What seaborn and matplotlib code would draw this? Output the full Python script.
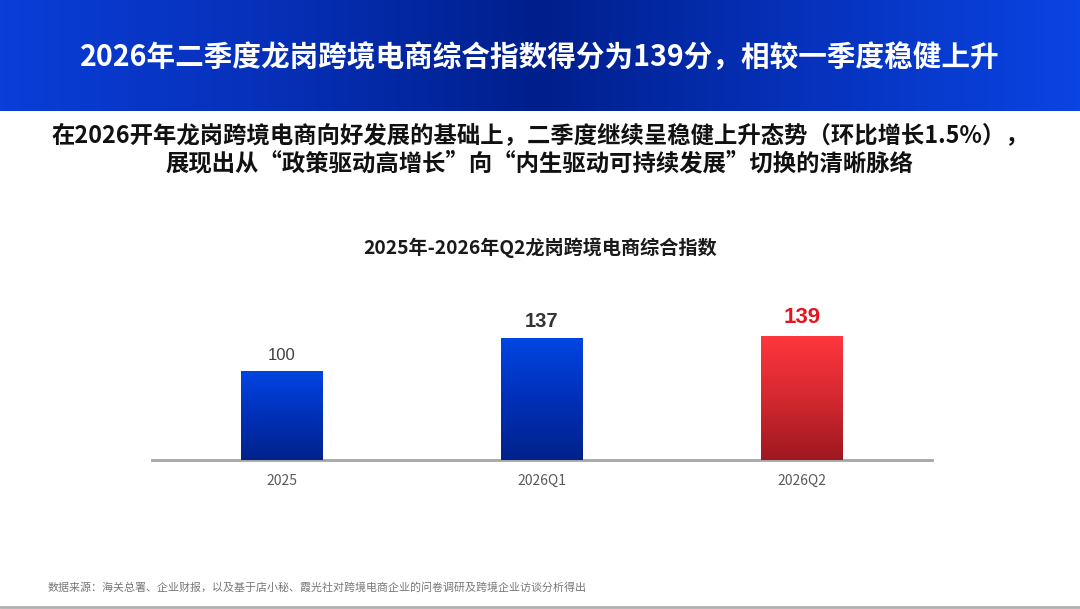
import numpy as np
import pandas as pd
import matplotlib.pyplot as plt
import seaborn as sns
from matplotlib.colors import LinearSegmentedColormap
from matplotlib.lines import Line2D

# data
categories = ['2025', '2026Q1', '2026Q2']
values = [100, 137, 139]

title = '2026年二季度龙岗跨境电商综合指数得分为139分，相较一季度稳健上升'
sub1 = '在2026开年龙岗跨境电商向好发展的基础上，二季度继续呈稳健上升态势（环比增长1.5%），'
sub2 = '展现出从“政策驱动高增长”向“内生驱动可持续发展”切换的清晰脉络'
chart_title = '2025年-2026年Q2龙岗跨境电商综合指数'
source = '数据来源：海关总署、企业财报，以及基于店小秘、霞光社对跨境电商企业的问卷调研及跨境企业访谈分析得出'

sns.set_style('white')
plt.rcParams['font.family'] = ['Noto Sans CJK SC', 'DejaVu Sans']

df = pd.DataFrame({'cat': categories, 'val': values})

W, H = 1080, 609
fig = plt.figure(figsize=(W / 100, H / 100), dpi=100)
fig.patch.set_facecolor('white')

# header band
hdr = fig.add_axes([0, 1 - 111 / H, 1, 111 / H])
hdr_cmap = LinearSegmentedColormap.from_list('hdr', ['#0a3ed8', '#0630b8', '#001f8c', '#0632bc', '#0a44e2'])
hdr.imshow(np.linspace(0, 1, 256)[None, :], aspect='auto', cmap=hdr_cmap, extent=[0, 1, 0, 1])
hdr.set_axis_off()
fig.text(0.5, 1 - 57 / H, title, ha='center', va='center', color='white',
         fontsize=20.6, fontweight='bold')

fig.text(0.5, 1 - 135 / H, sub1, ha='center', va='center', color='#111111',
         fontsize=16.8, fontweight='bold')
fig.text(0.5, 1 - 163 / H, sub2, ha='center', va='center', color='#111111',
         fontsize=16.8, fontweight='bold')
fig.text(0.5, 1 - 248 / H, chart_title, ha='center', va='center', color='#1a1a1a',
         fontsize=13.8, fontweight='bold')
fig.text(48 / W, 1 - 587 / H, source, ha='left', va='center', color='#777777', fontsize=7.9)
fig.add_artist(Line2D([0, 1], [1 - 606.5 / H, 1 - 606.5 / H], color='#b0b0b0', lw=2,
                      transform=fig.transFigure))

# chart
ax = fig.add_axes([152 / W, 1 - 460 / H, 780 / W, 160.2 / H])
sns.barplot(data=df, x='cat', y='val', color='#0033cc', width=0.315, ax=ax)

blue = LinearSegmentedColormap.from_list('b', ['#00228a', '#0030b8', '#0045e2'])
red = LinearSegmentedColormap.from_list('r', ['#9e1820', '#d42830', '#ff363e'])
grad = np.linspace(0, 1, 256)[:, None]
for i, p in enumerate(ax.patches):
    x0, y0 = p.get_x(), p.get_y()
    w, h = p.get_width(), p.get_height()
    cm = red if i == 2 else blue
    im = ax.imshow(grad, aspect='auto', cmap=cm, origin='lower',
                   extent=[x0, x0 + w, y0, y0 + h], zorder=3)
    im.set_clip_path(p)
ax.set_xlim(-0.5, 2.5)
ax.set_ylim(0, 180)

label_styles = [
    dict(fontsize=12, color='#404040', fontweight='normal', off=17),
    dict(fontsize=14.5, color='#333333', fontweight='bold', off=19),
    dict(fontsize=16, color='#e8141c', fontweight='bold', off=21),
]
for i, v in enumerate(values):
    s = label_styles[i]
    ax.text(i, v + s['off'], str(v), ha='center', va='center', fontsize=s['fontsize'],
            color=s['color'], fontweight=s['fontweight'], family=['Liberation Sans', 'DejaVu Sans'])

sns.despine(ax=ax, left=True, top=True, right=True)
ax.spines['bottom'].set_color('#a6a6a6')
ax.spines['bottom'].set_linewidth(2)
ax.set_yticks([])
ax.set_xlabel('')
ax.set_ylabel('')
ax.tick_params(axis='x', length=0, pad=10, labelsize=10, labelcolor='#595959')
ax.set_facecolor('none')

fig.savefig('out.png', dpi=100)
